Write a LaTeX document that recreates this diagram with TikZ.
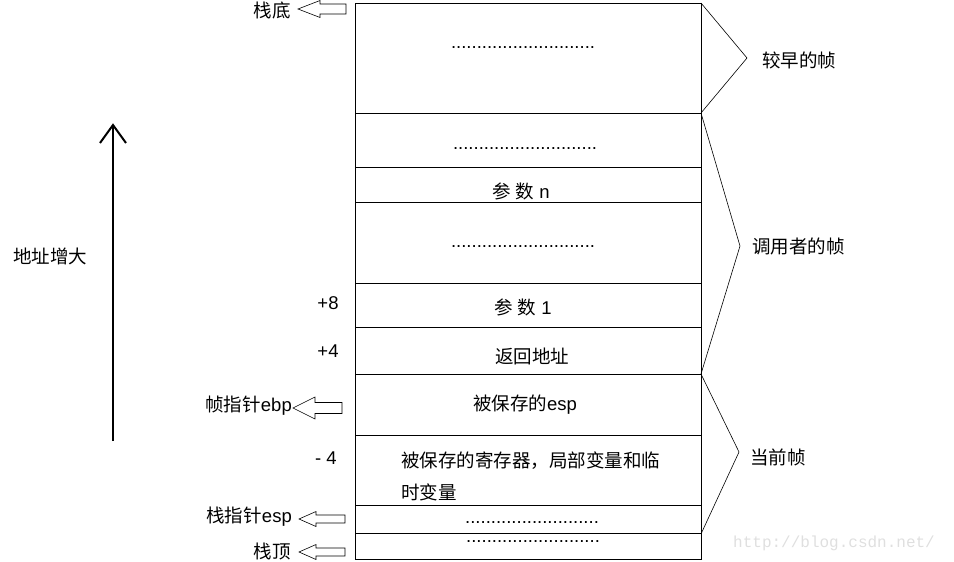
\documentclass[tikz,border=0pt]{standalone}
\usepackage{fontspec}
\setmainfont{Liberation Sans}
\newfontfamily\cjk{Noto Sans CJK SC}
\newfontfamily\wm{Liberation Mono}
\begin{document}
\begin{tikzpicture}[x=1pt,y=-1pt,
  every node/.style={inner sep=0pt, font=\fontsize{18.5}{32}\selectfont},
  frame/.style={line width=0.9pt},
  hollow/.style={line width=0.6pt, line join=miter},
  brace/.style={line width=0.6pt},
  lbl/.style={anchor=east},
  rlbl/.style={anchor=west}]
\useasboundingbox (0,0) rectangle (954,562);
% stack frame box
\draw[frame] (355,3) rectangle (701,559);
\foreach \y in {113,167,202,283,327,374,435,505,533} \draw[frame] (355,\y) -- (701,\y);
% named corners for braces
\coordinate (c0) at (701,3);
\coordinate (c1) at (701,113);
\coordinate (c2) at (701,374);
\coordinate (c3) at (701,534);
\coordinate (p1) at (747,58);
\coordinate (p2) at (740,246);
\coordinate (p3) at (739,452);
\draw[brace] (c0) -- (p1) -- (c1);
\draw[brace] (c1) -- (p2) -- (c2);
\draw[brace] (c2) -- (p3) -- (c3);
\node[rlbl] (early) at (762,60) {\cjk 较早的帧};
\node[rlbl] (caller) at (752,246) {\cjk 调用者的帧};
\node[rlbl] (cur) at (750,457) {\cjk 当前帧};
% cell contents
\node (d1) at (523,48) {............................};
\node (d2) at (525,149) {............................};
\node (pn) at (521,191) {{\cjk 参} {\cjk 数} n};
\node (d3) at (523,247) {............................};
\node (p1t) at (523,307) {{\cjk 参} {\cjk 数} 1};
\node (ret) at (532,356) {\cjk 返回地址};
\node (sesp) at (525,405) {{\cjk 被保存的}esp};
\node[anchor=north west, align=left] (regs) at (401,452) {\cjk 被保存的寄存器，局部变量和临\\\cjk 时变量};
\node (d4) at (532,523) {..........................};
\node (d5) at (533,542) {..........................};
% offsets
\node (o8) at (328,303) {+8};
\node (o4) at (328,351) {+4};
\node (om4) at (326,458) {- 4};
% left labels
\node[lbl] (bottom) at (291,10) {\cjk 栈底};
\node[lbl] (ebp) at (292,406) {{\cjk 帧指针}ebp};
\node[lbl] (esp) at (292,517) {{\cjk 栈指针}esp};
\node[lbl] (top) at (291,551) {\cjk 栈顶};
\node[anchor=west] (grow) at (13,256) {\cjk 地址增大};
% hollow arrows
\coordinate (ta) at (298,9);
\draw[hollow] (ta) -- ++(22,-8.5) -- ++(0,3.5) -- ++(26,0) -- ++(0,10) -- ++(-26,0) -- ++(0,3.5) -- cycle;
\coordinate (tb) at (293,408);
\draw[hollow] (tb) -- ++(22,-11) -- ++(0,5.5) -- ++(27,0) -- ++(0,11) -- ++(-27,0) -- ++(0,5.5) -- cycle;
\coordinate (tc) at (299,519);
\draw[hollow] (tc) -- ++(17,-7.5) -- ++(0,3.5) -- ++(29,0) -- ++(0,8) -- ++(-29,0) -- ++(0,3.5) -- cycle;
\coordinate (td) at (299,552);
\draw[hollow] (td) -- ++(17,-7.5) -- ++(0,3.5) -- ++(29,0) -- ++(0,8) -- ++(-29,0) -- ++(0,3.5) -- cycle;
% growth arrow
\coordinate (ga) at (113,441);
\coordinate (gb) at (113,125);
\draw[line width=1.2pt] (ga) -- (gb);
\draw[line width=2pt] (100,143) -- (gb) -- (126,143);
% watermark
\node[anchor=west, font=\wm\fontsize{16}{16}\selectfont, text=gray!25] (wmark) at (733,543) {http://blog.csdn.net/};
\end{tikzpicture}
\end{document}
